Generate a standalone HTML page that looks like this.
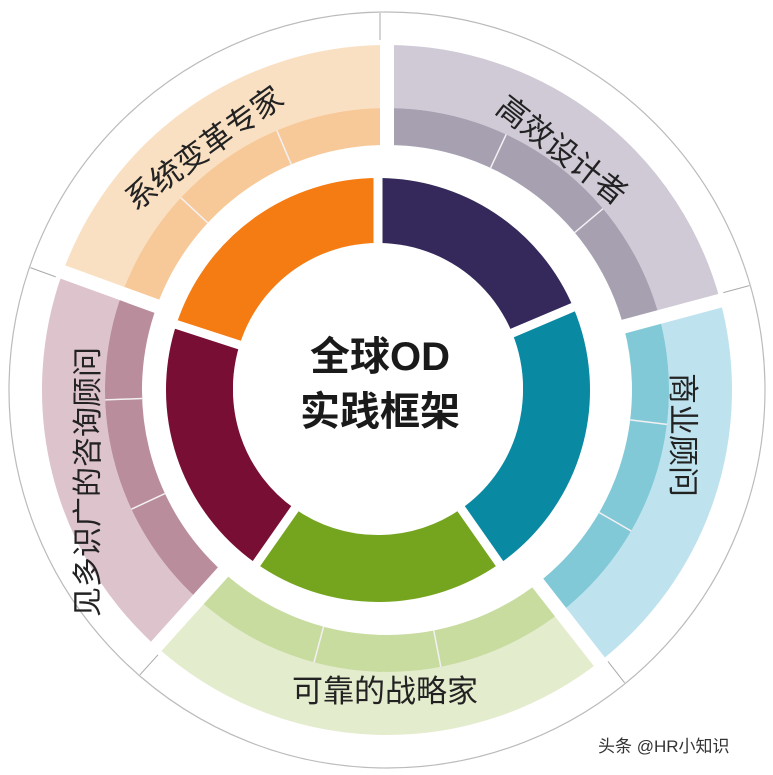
<!DOCTYPE html>
<html><head><meta charset="utf-8"><style>
html,body{margin:0;padding:0;background:#fff;width:773px;height:775px;overflow:hidden;}
svg{display:block;}
text{font-family:"Liberation Sans","Noto Sans CJK SC",sans-serif;}
</style></head><body>
<svg width="773" height="775" viewBox="0 0 773 775" xmlns="http://www.w3.org/2000/svg">
<circle cx="387" cy="390" r="378" fill="#fff" stroke="#bbb" stroke-width="1.2"/>
<g fill="none">
 <circle cx="387" cy="390" r="313.5" stroke="#cfcad6" stroke-width="63" stroke-dasharray="410.4 2000" transform="rotate(-90 387 390)"/>
 <circle cx="387" cy="390" r="263.5" stroke="#a6a0b0" stroke-width="37" stroke-dasharray="344.9 2000" transform="rotate(-90 387 390)"/>
 <circle cx="387" cy="390" r="313.5" stroke="#bfe3ee" stroke-width="63" stroke-dasharray="366.6 2000" transform="rotate(-15 387 390)"/>
 <circle cx="387" cy="390" r="263.5" stroke="#82c9d7" stroke-width="37" stroke-dasharray="308.1 2000" transform="rotate(-15 387 390)"/>
 <circle cx="387" cy="390" r="313.5" stroke="#e4ecce" stroke-width="63" stroke-dasharray="437.7 2000" transform="rotate(52 387 390)"/>
 <circle cx="387" cy="390" r="263.5" stroke="#c9dca0" stroke-width="37" stroke-dasharray="367.9 2000" transform="rotate(52 387 390)"/>
 <circle cx="387" cy="390" r="313.5" stroke="#ddc3cb" stroke-width="63" stroke-dasharray="372.1 2000" transform="rotate(132 387 390)"/>
 <circle cx="387" cy="390" r="263.5" stroke="#b98d9b" stroke-width="37" stroke-dasharray="312.7 2000" transform="rotate(132 387 390)"/>
 <circle cx="387" cy="390" r="313.5" stroke="#fae0c3" stroke-width="63" stroke-dasharray="383 2000" transform="rotate(200 387 390)"/>
 <circle cx="387" cy="390" r="263.5" stroke="#f7c999" stroke-width="37" stroke-dasharray="322 2000" transform="rotate(200 387 390)"/>
</g>
<g stroke="#f3f0f3" stroke-width="1.5" transform="translate(387 390)">
 <line x1="0" y1="-245" x2="0" y2="-282" transform="rotate(25)"/>
 <line x1="0" y1="-245" x2="0" y2="-282" transform="rotate(50)"/>
 <line x1="0" y1="-245" x2="0" y2="-282" transform="rotate(97)"/>
 <line x1="0" y1="-245" x2="0" y2="-282" transform="rotate(120)"/>
 <line x1="0" y1="-245" x2="0" y2="-282" transform="rotate(169)"/>
 <line x1="0" y1="-245" x2="0" y2="-282" transform="rotate(195)"/>
 <line x1="0" y1="-245" x2="0" y2="-282" transform="rotate(245)"/>
 <line x1="0" y1="-245" x2="0" y2="-282" transform="rotate(268)"/>
 <line x1="0" y1="-245" x2="0" y2="-282" transform="rotate(313)"/>
 <line x1="0" y1="-245" x2="0" y2="-282" transform="rotate(337)"/>
</g>
<g transform="translate(387 390)">
 <g stroke="#fff" stroke-width="14">
  <line x1="0" y1="-150" x2="0" y2="-377" transform="rotate(0)"/>
  <line x1="0" y1="-150" x2="0" y2="-377" transform="rotate(75)"/>
  <line x1="0" y1="-150" x2="0" y2="-377" transform="rotate(142)"/>
  <line x1="0" y1="-150" x2="0" y2="-377" transform="rotate(222)"/>
  <line x1="0" y1="-150" x2="0" y2="-377" transform="rotate(290)"/>
 </g>
 <g stroke="#aaa" stroke-width="1">
  <line x1="-7" y1="-350" x2="-7" y2="-377" transform="rotate(0)"/>
  <line x1="-7" y1="-350" x2="-7" y2="-377" transform="rotate(75)"/>
  <line x1="-7" y1="-350" x2="-7" y2="-377" transform="rotate(142)"/>
  <line x1="-7" y1="-350" x2="-7" y2="-377" transform="rotate(222)"/>
  <line x1="-7" y1="-350" x2="-7" y2="-377" transform="rotate(290)"/>
 </g>
</g>
<g fill="none" stroke-width="67">
 <circle cx="378" cy="390" r="178.5" stroke="#34295a" stroke-dasharray="208.7 2000" transform="rotate(-90 378 390)"/>
 <circle cx="378" cy="390" r="178.5" stroke="#0a89a3" stroke-dasharray="243 2000" transform="rotate(-23 378 390)"/>
 <circle cx="378" cy="390" r="178.5" stroke="#75a51f" stroke-dasharray="218.1 2000" transform="rotate(55 378 390)"/>
 <circle cx="378" cy="390" r="178.5" stroke="#790e35" stroke-dasharray="227.4 2000" transform="rotate(125 378 390)"/>
 <circle cx="378" cy="390" r="178.5" stroke="#f57b13" stroke-dasharray="224.3 2000" transform="rotate(198 378 390)"/>
</g>
<g transform="translate(378 390)" stroke="#fff" stroke-width="9">
 <line x1="0" y1="-140" x2="0" y2="-216" transform="rotate(0)"/>
 <line x1="0" y1="-140" x2="0" y2="-216" transform="rotate(67)"/>
 <line x1="0" y1="-140" x2="0" y2="-216" transform="rotate(145)"/>
 <line x1="0" y1="-140" x2="0" y2="-216" transform="rotate(215)"/>
 <line x1="0" y1="-140" x2="0" y2="-216" transform="rotate(288)"/>
</g>
<circle cx="378" cy="388" r="145" fill="#fff"/>
<text x="380" y="370" font-size="40" font-weight="bold" text-anchor="middle" fill="#1a1a1a">全球OD</text>
<text x="380" y="425" font-size="40" font-weight="bold" text-anchor="middle" fill="#1a1a1a">实践框架</text>
<g font-size="31" fill="#222" text-anchor="middle">
 <text transform="translate(204 148) rotate(-36)" dy="11">系统变革专家</text>
 <text transform="translate(562 150) rotate(38)" dy="11">高效设计者</text>
 <text transform="translate(683 435) rotate(90)" dy="11">商业顾问</text>
 <text x="385" y="702">可靠的战略家</text>
 <text transform="translate(88 482) rotate(-90)" dy="10" font-size="30">见多识广的咨询顾问</text>
</g>
<text x="598" y="752" font-size="17" fill="#333">头条 @HR小知识</text>
</svg>
</body></html>
